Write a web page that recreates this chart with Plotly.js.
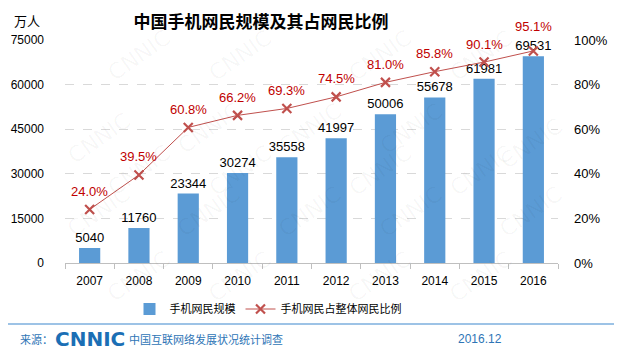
<!DOCTYPE html>
<html><head><meta charset="utf-8">
<script src="https://cdn.plot.ly/plotly-3.0.1.min.js"></script>
<style>html,body{margin:0;padding:0;background:#fff}#c{width:621px;height:356px}</style>
</head><body><div id="c"></div>
<script>
const years = ['2007','2008','2009','2010','2011','2012','2013','2014','2015','2016'];
const mobileUsers = [5040, 11760, 23344, 30274, 35558, 41997, 50006, 55678, 61981, 69531];
const mobileShare = [24.0, 39.5, 60.8, 66.2, 69.3, 74.5, 81.0, 85.8, 90.1, 95.1];
const yTicks = [0, 15000, 30000, 45000, 60000, 75000];

const numFont = 'Liberation Sans, Arial, sans-serif';
const cjkFont = 'Noto Sans CJK SC, sans-serif';

const bars = {
  type: 'bar', x: years, y: mobileUsers, name: '手机网民规模',
  marker: {color: '#5b9bd5'}, width: 0.43,
  text: mobileUsers.map(String), textposition: 'outside', cliponaxis: false, constraintext: 'none',
  textfont: {family: numFont, size: 13, color: '#000'},
  hoverinfo: 'skip'
};
const line = {
  type: 'scatter', x: years, y: mobileShare.map(v => v / 100), yaxis: 'y2',
  name: '手机网民占整体网民比例', mode: 'lines+markers',
  line: {color: '#c0504d', width: 1},
  marker: {symbol: 'x-thin', size: 9, line: {color: '#c0504d', width: 2.2}, color: '#c0504d'},
  cliponaxis: false, hoverinfo: 'skip'
};

const px = v => (v - 65) / 493;
const py = v => (263 - v) / 223;

// percentage labels placed through the category axis (by index) and the secondary axis
const pctLabels = mobileShare.map((v, i) => ({
  xref: 'x', yref: 'y2', x: i, y: v / 100, yshift: i === mobileShare.length - 1 ? 24 : 18,
  text: v.toFixed(1) + '%', showarrow: false, yanchor: 'middle',
  font: {family: numFont, size: 13, color: '#c00000'}
}));

// faint watermark, kept fully inside the canvas
const wm = [];
const wmPos = [[100,22],[240,22],[380,22],[520,22],[60,105],[170,95],[310,95],[450,95],[570,110],
               [100,170],[240,170],[380,170],[520,170],[170,245],[310,245],[450,245],[60,245],[570,245],
               [100,310],[240,310],[380,310],[520,310]];
wmPos.forEach(p => wm.push({xref: 'paper', yref: 'paper', x: px(p[0]), y: py(p[1]), text: 'CNNIC',
  showarrow: false, textangle: -35,
  font: {family: 'DejaVu Sans, sans-serif', size: 22, color: 'rgba(0,0,0,0.035)'}}));

const annotations = wm.concat(pctLabels, [
  {xref: 'paper', yref: 'paper', x: px(12), y: py(21), xanchor: 'left', yanchor: 'middle',
   text: '万人', showarrow: false, font: {family: cjkFont, size: 13, color: '#000'}},
  {xref: 'paper', yref: 'paper', x: px(18), y: py(339), xanchor: 'left', yanchor: 'middle',
   text: '来源：', showarrow: false, font: {family: cjkFont, size: 11, color: '#2e75b6'}},
  {xref: 'paper', yref: 'paper', x: px(53), y: py(339), xanchor: 'left', yanchor: 'middle',
   text: '<b>CNNIC</b>', showarrow: false, font: {family: 'DejaVu Sans, sans-serif', size: 20, color: '#1b6fb5'}},
  {xref: 'paper', yref: 'paper', x: px(127), y: py(339), xanchor: 'left', yanchor: 'middle',
   text: '中国互联网络发展状况统计调查', showarrow: false, font: {family: cjkFont, size: 11, color: '#2e75b6'}},
  {xref: 'paper', yref: 'paper', x: px(504), y: py(339), xanchor: 'right', yanchor: 'middle',
   text: '2016.12', showarrow: false, font: {family: numFont, size: 12, color: '#2e75b6'}}
]);

const layout = {
  width: 621, height: 356, paper_bgcolor: '#fff', plot_bgcolor: 'rgba(0,0,0,0)',
  margin: {l: 65, r: 63, t: 40, b: 93},
  title: {text: '<b>中国手机网民规模及其占网民比例</b>', x: 261 / 621, xref: 'container', xanchor: 'center',
    y: 1 - 22 / 356, yref: 'container', yanchor: 'middle',
    font: {family: cjkFont, size: 17, color: '#000'}},
  xaxis: {type: 'category', range: [-0.5, years.length - 0.5], autorange: false,
    showgrid: false, showline: true, linecolor: '#bfbfbf', linewidth: 1,
    ticks: 'outside', tickson: 'boundaries', ticklen: 5, tickcolor: '#bfbfbf', tickangle: 0,
    ticklabelstandoff: 7,
    tickfont: {family: numFont, size: 12, color: '#000'}, fixedrange: true},
  yaxis: {range: [0, 75000], autorange: false, tickvals: yTicks, ticktext: yTicks.map(String), showgrid: true,
    gridcolor: '#d9d9d9', griddash: 'dash', gridwidth: 1, zeroline: false, showline: false,
    ticklabelstandoff: 20, tickfont: {family: numFont, size: 12, color: '#000'}},
  yaxis2: {overlaying: 'y', side: 'right', range: [0, 1], autorange: false, dtick: 0.2, tickformat: '.0%',
    showgrid: false, zeroline: false, showline: false, ticklabelstandoff: 15,
    tickfont: {family: numFont, size: 13, color: '#000'}},
  showlegend: true,
  legend: {orientation: 'h', x: px(268), xanchor: 'center', y: py(309), yanchor: 'middle',
    font: {family: cjkFont, size: 11, color: '#000'}, itemwidth: 30, bgcolor: 'rgba(0,0,0,0)'},
  shapes: [{type: 'line', xref: 'paper', yref: 'paper', x0: px(8), x1: px(614), y0: py(324), y1: py(324),
    line: {color: '#9dc3e6', width: 2}}],
  annotations: annotations
};

Plotly.newPlot('c', [bars, line], layout, {staticPlot: true, displayModeBar: false});
</script></body></html>
